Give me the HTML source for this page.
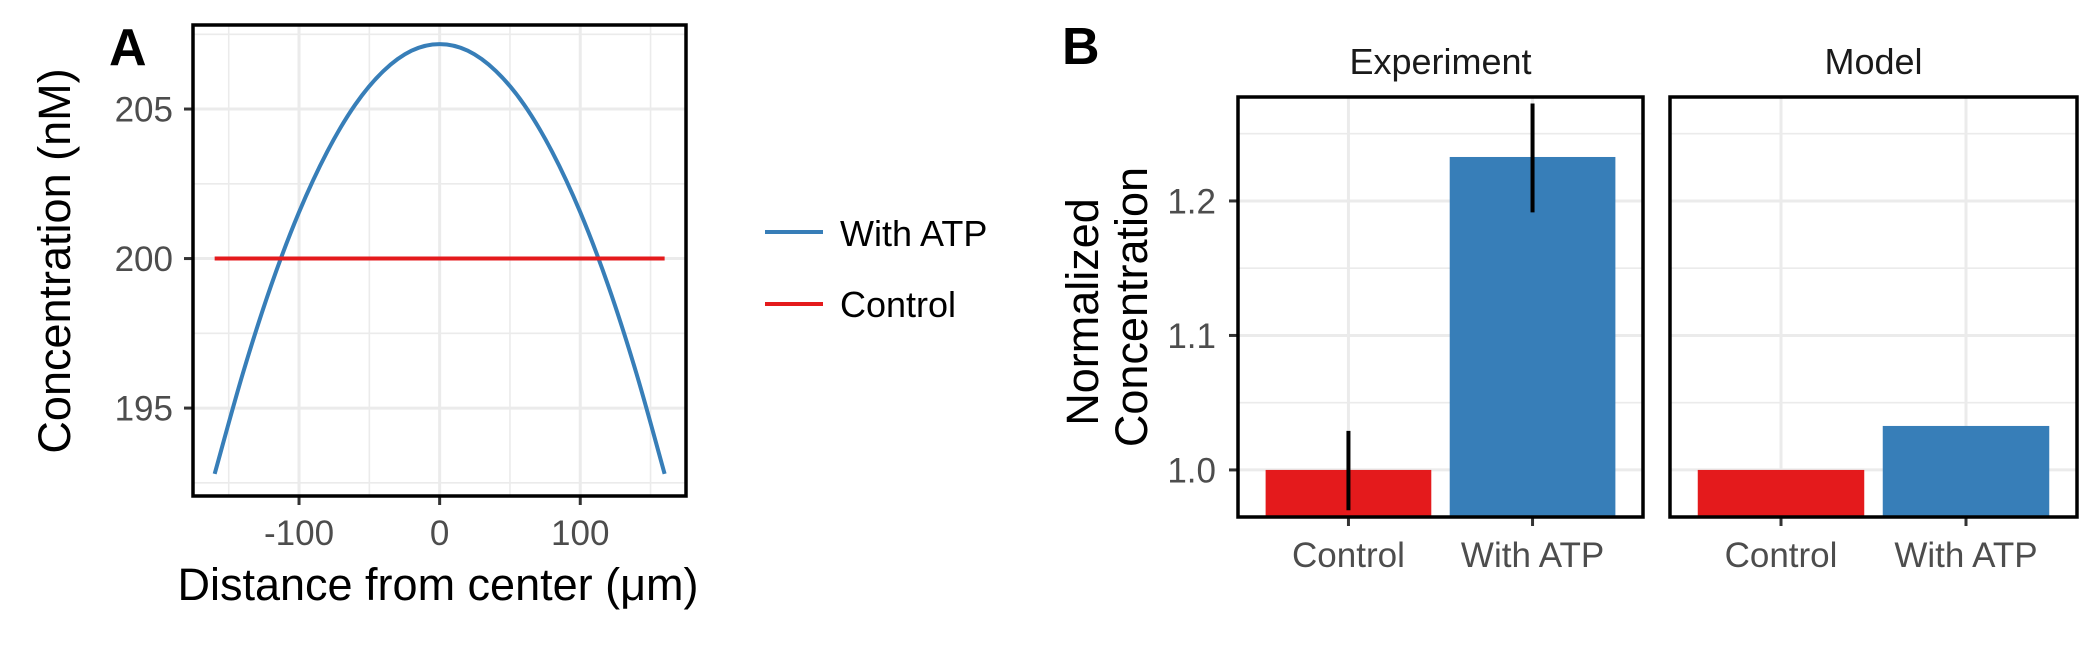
<!DOCTYPE html>
<html><head><meta charset="utf-8"><style>
html,body{margin:0;padding:0;background:#fff;}
svg{display:block;font-family:"Liberation Sans",sans-serif;}
</style></head><body>
<svg id="chart" width="2100" height="660" viewBox="0 0 2100 660" xmlns="http://www.w3.org/2000/svg">
<rect width="2100" height="660" fill="#fff"/>
<g id="pa"></g>
<g id="pb"></g>
<text x="109" y="65" font-size="52" font-weight="bold">A</text>
<text x="1062" y="64" font-size="52" font-weight="bold">B</text>
<text x="438" y="600" font-size="45" text-anchor="middle">Distance from center (μm)</text>
<text transform="translate(70,261) rotate(-90)" font-size="45" text-anchor="middle">Concentration (nM)</text>
<text transform="translate(1098,312) rotate(-90)" font-size="45" text-anchor="middle">Normalized</text>
<text transform="translate(1147,307) rotate(-90)" font-size="45" text-anchor="middle">Concentration</text>
<g>
<line x1="765" y1="232" x2="823" y2="232" stroke="#377eb8" stroke-width="4"/>
<text x="840" y="246" font-size="36">With ATP</text>
<line x1="765" y1="304" x2="823" y2="304" stroke="#e41a1c" stroke-width="4"/>
<text x="840" y="317" font-size="36">Control</text>
</g>
</svg>
<script>
// Panel A data
const distX = [-160,-140,-120,-100,-80,-60,-40,-20,0,20,40,60,80,100,120,140,160];
const withAtpY = [192.8,196.15,199.08,201.55,203.57,205.15,206.27,206.95,207.17,206.95,206.27,205.15,203.57,201.55,199.08,196.15,192.8];
const controlX = [-160,160];
const controlY = [200,200];
const aXTicks = [-100,0,100];
const aYTicks = [195,200,205];
// Panel B data
const bCategories = ["Control","With ATP"];
const bFacets = ["Experiment","Model"];
const expValues = [1.0,1.2327];
const expErrLow = [0.970,1.1915];
const expErrHigh = [1.029,1.2725];
const modelValues = [1.0,1.0327];
const bYTicks = ["1.0","1.1","1.2"];

const NS="http://www.w3.org/2000/svg";
function mk(parent,tag,attrs){const e=document.createElementNS(NS,tag);for(const k in attrs)e.setAttribute(k,attrs[k]);parent.appendChild(e);return e;}

// ---------- Panel A ----------
const pa=document.getElementById('pa');
const A={l:193,r:686,t:25,b:496,x0:-175.4,x1:175.2,y0:192.06,y1:207.81};
const ax=v=>A.l+(v-A.x0)/(A.x1-A.x0)*(A.r-A.l);
const ay=v=>A.b-(v-A.y0)/(A.y1-A.y0)*(A.b-A.t);
for(const v of [-150,-50,50,150]){const g=mk(pa,'line',{x1:ax(v),x2:ax(v),y1:A.t,y2:A.b,stroke:'#ebebeb','stroke-width':1.6});
}
for(const v of [192.5,197.5,202.5,207.5]){const g=mk(pa,'line',{x1:A.l,x2:A.r,y1:ay(v),y2:ay(v),stroke:'#ebebeb','stroke-width':1.6});
}
aXTicks.forEach(v=>{const g=mk(pa,'line',{x1:ax(v),x2:ax(v),y1:A.t,y2:A.b,stroke:'#ebebeb','stroke-width':3});

const t=mk(pa,'line',{x1:ax(v),x2:ax(v),y1:A.b,y2:A.b+9,stroke:'#333','stroke-width':3});

const l=mk(pa,'text',{x:ax(v),y:545,'font-size':35,'text-anchor':'middle',fill:'#4d4d4d'});l.textContent=String(v);
});
aYTicks.forEach(v=>{const g=mk(pa,'line',{x1:A.l,x2:A.r,y1:ay(v),y2:ay(v),stroke:'#ebebeb','stroke-width':3});

const t=mk(pa,'line',{x1:A.l-9,x2:A.l,y1:ay(v),y2:ay(v),stroke:'#333','stroke-width':3});

const l=mk(pa,'text',{x:A.l-20,y:ay(v)+12.5,'font-size':35,'text-anchor':'end',fill:'#4d4d4d'});l.textContent=String(v);
});
const pts=distX.map((x,i)=>[ax(x),ay(withAtpY[i])]);
let d='M'+pts[0][0]+','+pts[0][1];
for(let i=0;i<pts.length-1;i++){const p0=pts[Math.max(0,i-1)],p1=pts[i],p2=pts[i+1],p3=pts[Math.min(pts.length-1,i+2)];
d+=` C${p1[0]+(p2[0]-p0[0])/6},${p1[1]+(p2[1]-p0[1])/6} ${p2[0]-(p3[0]-p1[0])/6},${p2[1]-(p3[1]-p1[1])/6} ${p2[0]},${p2[1]}`;}
const cur=mk(pa,'path',{d:d,fill:'none',stroke:'#377eb8','stroke-width':4});

const ctl=mk(pa,'polyline',{points:controlX.map((x,i)=>ax(x)+','+ay(controlY[i])).join(' '),fill:'none',stroke:'#e41a1c','stroke-width':4});

const fa=mk(pa,'rect',{x:A.l,y:A.t,width:A.r-A.l,height:A.b-A.t,fill:'none',stroke:'#000','stroke-width':3.5});


// ---------- Panel B ----------
const pb=document.getElementById('pb');
const B={t:97,b:517,y0:0.965,y1:1.2773};
const by=v=>B.b-(v-B.y0)/(B.y1-B.y0)*(B.b-B.t);
const facetsX=[[1238,1643],[1670,2077]];
const facetVals=[expValues,modelValues];
facetsX.forEach((fx,fi)=>{
  const [l,r]=fx;const w=r-l;
  const cen=i=>l+w*(0.6+i)/2.2;
  for(const v of [1.05,1.15,1.25]){const g=mk(pb,'line',{x1:l,x2:r,y1:by(v),y2:by(v),stroke:'#ebebeb','stroke-width':1.6});
  }
  bYTicks.forEach(s=>{const v=parseFloat(s);const g=mk(pb,'line',{x1:l,x2:r,y1:by(v),y2:by(v),stroke:'#ebebeb','stroke-width':3});
  
  if(fi===0){const t=mk(pb,'line',{x1:l-9,x2:l,y1:by(v),y2:by(v),stroke:'#333','stroke-width':3});
  
  const lb=mk(pb,'text',{x:l-22,y:by(v)+12.5,'font-size':35,'text-anchor':'end',fill:'#4d4d4d'});lb.textContent=s;
  }});
  bCategories.forEach((c,i)=>{const g=mk(pb,'line',{x1:cen(i),x2:cen(i),y1:B.t,y2:B.b,stroke:'#ebebeb','stroke-width':3});
  });
  const vals=facetVals[fi];
  bCategories.forEach((c,i)=>{const bw=w*0.9/2.2;const top=by(vals[i]);
  const bar=mk(pb,'rect',{x:cen(i)-bw/2,y:top,width:bw,height:B.b-top,fill:i===0?'#e41a1c':'#377eb8'});
  
  if(fi===0){const e=mk(pb,'line',{x1:cen(i),x2:cen(i),y1:by(expErrHigh[i]),y2:by(expErrLow[i]),stroke:'#000','stroke-width':4});
  }
  const t=mk(pb,'line',{x1:cen(i),x2:cen(i),y1:B.b,y2:B.b+9,stroke:'#333','stroke-width':3});
  
  const lb=mk(pb,'text',{x:cen(i),y:567,'font-size':35,'text-anchor':'middle',fill:'#4d4d4d'});lb.textContent=c;
  });
  const fr=mk(pb,'rect',{x:l,y:B.t,width:w,height:B.b-B.t,fill:'none',stroke:'#000','stroke-width':3.5});
  
  const st=mk(pb,'text',{x:(l+r)/2,y:74,'font-size':36,'text-anchor':'middle',fill:'#1a1a1a'});st.textContent=bFacets[fi];
  
});
</script>
</body></html>
